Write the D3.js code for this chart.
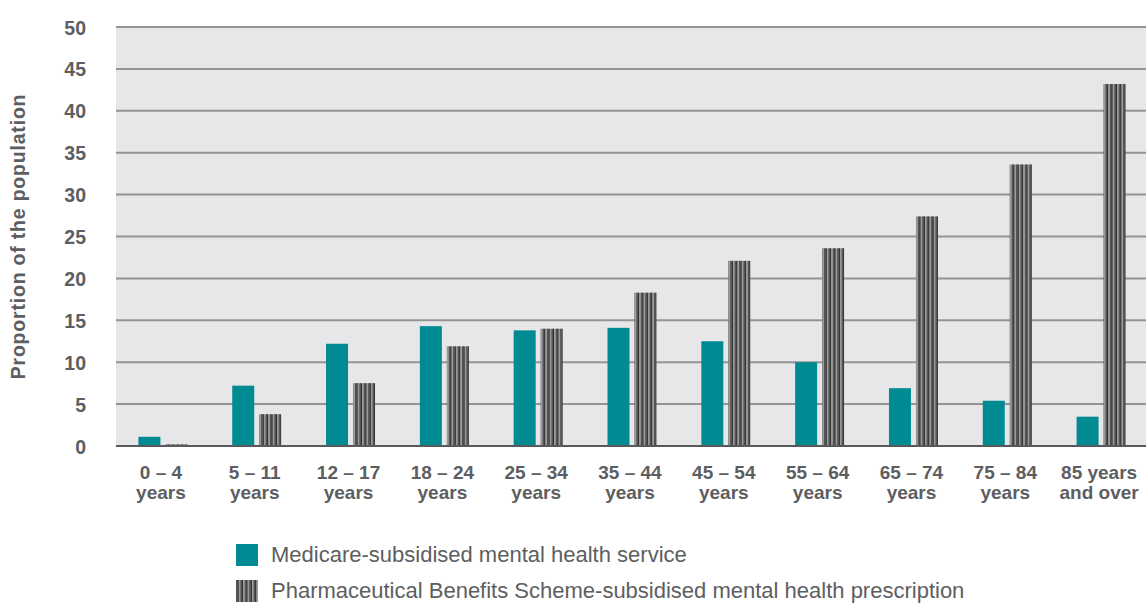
<!DOCTYPE html>
<html>
<head>
<meta charset="utf-8">
<script src="https://cdn.jsdelivr.net/npm/d3@7"></script>
<style>
  body { margin: 0; background: #fff; }
  text { font-family: "Liberation Sans", Arial, sans-serif; fill: #5d5e61; }
</style>
</head>
<body>
<div id="chart"></div>
<script>
// age groups (two-line labels)
var categories = [
  ["0 – 4", "years"], ["5 – 11", "years"], ["12 – 17", "years"], ["18 – 24", "years"],
  ["25 – 34", "years"], ["35 – 44", "years"], ["45 – 54", "years"], ["55 – 64", "years"],
  ["65 – 74", "years"], ["75 – 84", "years"], ["85 years", "and over"]
];
var medicare = [1.1, 7.2, 12.2, 14.3, 13.8, 14.1, 12.5, 10.0, 6.9, 5.4, 3.5];
var pbs = [0.2, 3.8, 7.5, 11.9, 14.0, 18.3, 22.1, 23.6, 27.4, 33.6, 43.2];
var yTicks = [0, 5, 10, 15, 20, 25, 30, 35, 40, 45, 50];
var seriesNames = [
  "Medicare-subsidised mental health service",
  "Pharmaceutical Benefits Scheme-subsidised mental health prescription"
];

var width = 1146, height = 603;
var margin = {top: 27, right: -2, bottom: 157, left: 116};
var plotW = width - margin.left - margin.right,
    plotH = height - margin.top - margin.bottom;

var svg = d3.select("#chart").append("svg")
    .attr("width", width)
    .attr("height", height);

// striped fill for the PBS bars
var defs = svg.append("defs");
var pat = defs.append("pattern")
    .attr("id", "stripes")
    .attr("patternUnits", "userSpaceOnUse")
    .attr("width", 4.4)
    .attr("height", 10);
pat.append("rect").attr("width", 4.4).attr("height", 10).attr("fill", "#9a9a9b");
pat.append("rect").attr("x", 0).attr("width", 1.6).attr("height", 10).attr("fill", "#555657");
pat.append("rect").attr("x", 1.6).attr("width", 0.9).attr("height", 10).attr("fill", "#1a1a1a");

var g = svg.append("g").attr("transform", "translate(" + margin.left + "," + margin.top + ")");

var x = d3.scaleBand()
    .domain(d3.range(categories.length))
    .range([0, plotW]);

var y = d3.scaleLinear()
    .domain([0, 50])
    .range([plotH, 0]);

// plot background
g.append("rect")
    .attr("width", plotW)
    .attr("height", plotH)
    .attr("fill", "#e7e7e9");

// grid lines
g.selectAll(".grid")
  .data(yTicks.filter(function(d) { return d > 0; }))
  .enter().append("line")
    .attr("x1", 0).attr("x2", plotW)
    .attr("y1", function(d) { return y(d); })
    .attr("y2", function(d) { return y(d); })
    .attr("stroke", "#939495")
    .attr("stroke-width", 2);

// y axis labels
var yAxis = g.append("g")
    .call(d3.axisLeft(y).tickValues(yTicks).tickSize(0).tickPadding(30));
yAxis.select(".domain").remove();
yAxis.selectAll("text")
    .attr("font-size", 19.5)
    .attr("font-weight", "bold")
    .attr("fill", "#5d5e61")
    .attr("dy", "0.36em")
    .style("font-family", "'Liberation Sans', Arial, sans-serif");

// bars
var barW = 22, gap = 5;
var groups = g.selectAll(".grp")
  .data(categories)
  .enter().append("g")
    .attr("transform", function(d, i) { return "translate(" + (x(i) + x.bandwidth() / 2) + ",0)"; });

groups.append("rect")
    .attr("x", -barW - gap / 2)
    .attr("width", barW)
    .attr("y", function(d, i) { return y(medicare[i]); })
    .attr("height", function(d, i) { return plotH - y(medicare[i]); })
    .attr("fill", "#008b92");

groups.append("rect")
    .attr("x", gap / 2)
    .attr("width", barW)
    .attr("y", function(d, i) { return y(pbs[i]); })
    .attr("height", function(d, i) { return plotH - y(pbs[i]); })
    .attr("fill", "url(#stripes)");

// baseline
g.append("line")
    .attr("x1", 0).attr("x2", plotW)
    .attr("y1", plotH).attr("y2", plotH)
    .attr("stroke", "#58595b")
    .attr("stroke-width", 2);

// x labels
var xl = groups.append("text")
    .attr("text-anchor", "middle")
    .attr("font-size", 19)
    .attr("font-weight", "bold")
    .attr("y", plotH + 33);
xl.append("tspan").attr("x", -2).text(function(d) { return d[0]; });
xl.append("tspan").attr("x", -2).attr("dy", 20).text(function(d) { return d[1]; });

// y axis title
svg.append("text")
    .attr("transform", "translate(25," + (margin.top + plotH / 2) + ") rotate(-90)")
    .attr("text-anchor", "middle")
    .attr("font-size", 19.5)
    .attr("font-weight", "bold")
    .attr("letter-spacing", 0.8)
    .text("Proportion of the population");

// legend
var legend = svg.append("g").attr("transform", "translate(236,544)");
var items = legend.selectAll("g")
  .data(seriesNames)
  .enter().append("g")
    .attr("transform", function(d, i) { return "translate(0," + (i * 36) + ")"; });
items.append("rect")
    .attr("width", 22).attr("height", 22)
    .attr("fill", function(d, i) { return i === 0 ? "#008b92" : "url(#stripes)"; });
items.append("text")
    .attr("x", 35)
    .attr("y", 18)
    .attr("font-size", 22)
    .text(function(d) { return d; });
</script>
</body>
</html>
